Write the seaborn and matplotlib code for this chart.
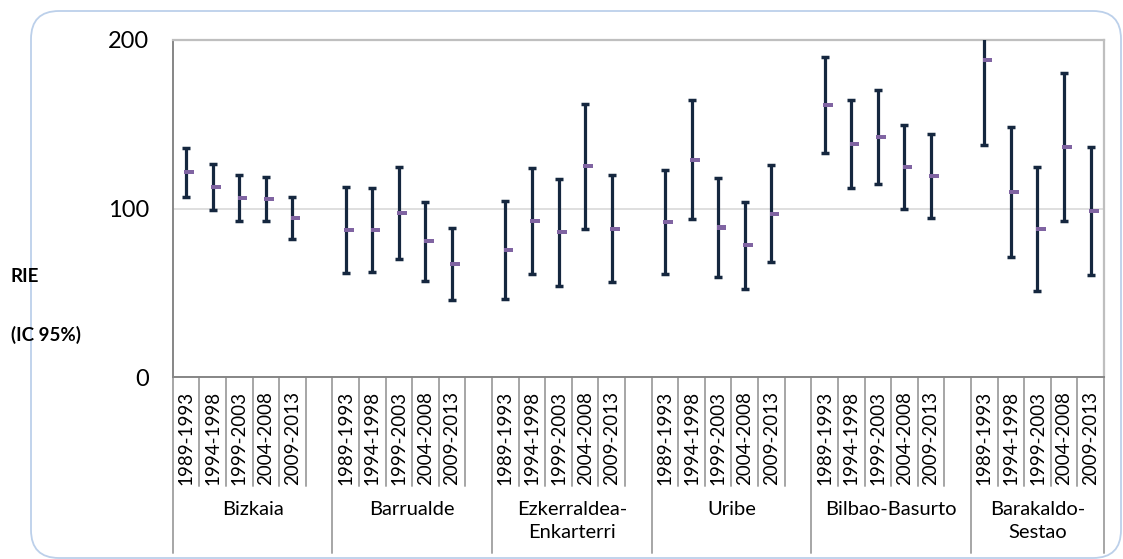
import numpy as np
import pandas as pd
import seaborn as sns
import matplotlib
matplotlib.use("Agg")
import matplotlib.pyplot as plt
import matplotlib.transforms as mtransforms
from matplotlib.patches import FancyBboxPatch

# Categories
groups = ["Bizkaia", "Barrualde", "Ezkerraldea-\nEnkarterri", "Uribe",
          "Bilbao-Basurto", "Barakaldo-\nSestao"]
periods = ["1989-1993", "1994-1998", "1999-2003", "2004-2008", "2009-2013"]

# RIE point estimates per group (one value per period)
rie_bizkaia = [121.6, 112.9, 106.2, 105.6, 94.5]
rie_barrualde = [87.2, 87.2, 97.3, 80.7, 67.1]
rie_ezkerraldea = [75.5, 92.6, 86.1, 125.3, 88.2]
rie_uribe = [92.2, 128.9, 88.8, 78.3, 96.9]
rie_bilbao = [161.6, 138.5, 142.4, 124.6, 119.5]
rie_barakaldo = [188.1, 109.8, 87.8, 136.5, 98.5]

# Lower limits of the 95% confidence interval
low_bizkaia = [107.1, 99.4, 92.7, 92.7, 82.2]
low_barrualde = [61.9, 62.5, 70.4, 57.2, 45.7]
low_ezkerraldea = [46.6, 61.1, 54.4, 88.2, 56.7]
low_uribe = [61.3, 93.9, 59.7, 52.6, 68.2]
low_bilbao = [133.1, 112.5, 114.9, 99.9, 94.7]
low_barakaldo = [137.7, 71.4, 51.4, 92.8, 60.7]

# Upper limits of the 95% confidence interval
high_bizkaia = [135.8, 126.3, 120.0, 118.6, 106.9]
high_barrualde = [112.8, 112.2, 124.8, 104.2, 88.8]
high_ezkerraldea = [104.5, 124.2, 117.7, 162.2, 119.9]
high_uribe = [123.0, 164.2, 118.3, 104.2, 125.8]
high_bilbao = [190.1, 164.5, 170.1, 149.6, 144.4]
high_barakaldo = [252.0, 148.5, 124.4, 180.4, 136.5]

y_ticks = [0, 100, 200]

rie_all = [rie_bizkaia, rie_barrualde, rie_ezkerraldea, rie_uribe, rie_bilbao, rie_barakaldo]
low_all = [low_bizkaia, low_barrualde, low_ezkerraldea, low_uribe, low_bilbao, low_barakaldo]
high_all = [high_bizkaia, high_barrualde, high_ezkerraldea, high_uribe, high_bilbao, high_barakaldo]

# Long-form table; each group takes 5 slots plus a blank slot after it
rows = []
for g, name in enumerate(groups):
    for p, per in enumerate(periods):
        rows.append({"group": name, "period": per, "pos": g * 6 + p,
                     "rie": rie_all[g][p], "low": low_all[g][p], "high": high_all[g][p]})
df = pd.DataFrame(rows)
n_slots = 6 * len(groups) - 1

sns.set_theme(style="white")
plt.rcParams["font.family"] = ["Lato", "DejaVu Sans"]

W, H = 1123, 559
fig = plt.figure(figsize=(W / 100, H / 100), dpi=100)
fig.patch.set_facecolor("white")

ax_l, ax_r, ax_t, ax_b = 172.7, 1104, 40, 377.3
ax = fig.add_axes([ax_l / W, 1 - ax_b / H, (ax_r - ax_l) / W, (ax_b - ax_t) / H])
ax.set_facecolor("white")

# Confidence intervals
eb = ax.errorbar(df["pos"], df["rie"],
                 yerr=[df["rie"] - df["low"], df["high"] - df["rie"]],
                 fmt="none", ecolor="#15273f", elinewidth=2.3,
                 capsize=2.8, capthick=2.5, zorder=3)
for cap in eb[1]:
    cap.set_color("black")

# Point estimates as short purple dashes
dash = [(-1.0, -0.42), (1.0, -0.42), (1.0, 0.42), (-1.0, 0.42), (-1.0, -0.42)]
sns.scatterplot(x=df["pos"] + 0.12, y=df["rie"], marker=dash, s=7.0 ** 2,
                color="#8064a2", edgecolor="none", linewidth=0, ax=ax, zorder=4)

ax.set_xlim(-0.5, n_slots - 0.5)
ax.set_ylim(0, 200)
ax.set_yticks(y_ticks)
ax.set_yticklabels([str(v) for v in y_ticks], fontsize=17, color="black")
ax.tick_params(axis="y", direction="out", length=6, width=1.2, color="#868686", pad=11)
ax.yaxis.grid(True, color="#d9d9d9", linewidth=1.2)
ax.set_axisbelow(True)

ax.set_xticks(df["pos"])
ax.set_xticklabels(df["period"], rotation=90, fontsize=13.5, color="black")
ax.tick_params(axis="x", length=0, pad=10)
ax.set_xlabel("")
ax.set_ylabel("")

for side in ["left", "bottom"]:
    ax.spines[side].set_color("#868686")
    ax.spines[side].set_linewidth(1.4)
for side in ["top", "right"]:
    ax.spines[side].set_color("#bfbfbf")
    ax.spines[side].set_linewidth(1.6)

# Category separators below the axis
trans = mtransforms.blended_transform_factory(ax.transData, ax.transAxes)
short_end = (ax_b - 485.7) / (ax_b - ax_t)
long_end = (ax_b - 553) / (ax_b - ax_t)
group_edges = [g * 6 - 0.5 for g in range(len(groups))] + [n_slots - 0.5]
for k in range(n_slots + 1):
    xb = k - 0.5
    end = long_end if xb in group_edges else short_end
    ax.plot([xb, xb], [0, end], color="#a6a6a6", linewidth=1.4,
            transform=trans, clip_on=False, zorder=1)

# Group names centred on their span
label_top = (ax_b - 501) / (ax_b - ax_t)
for g, name in enumerate(groups):
    left = group_edges[g]
    right = group_edges[g + 1]
    ax.text((left + right) / 2, label_top, name, transform=trans,
            ha="center", va="top", fontsize=14.5, color="black",
            linespacing=1.4, multialignment="center")

# Axis title
fig.text(11 / W, 1 - 276.5 / H, "RIE", ha="left", va="center",
         fontsize=13.5, fontweight="bold", color="black")
fig.text(11 / W, 1 - 335 / H, "(IC 95%)", ha="left", va="center",
         fontsize=13.5, fontweight="bold", color="black")

# Rounded chart-area frame
frame = FancyBboxPatch((31 / 100, 1 / 100), (1121 - 31) / 100, (558 - 11) / 100,
                       boxstyle="round,pad=0,rounding_size=0.28",
                       transform=fig.dpi_scale_trans, facecolor="none",
                       edgecolor="#bcd0ea", linewidth=1.3, zorder=0)
fig.patches.append(frame)

fig.savefig("out.png", dpi=100)
